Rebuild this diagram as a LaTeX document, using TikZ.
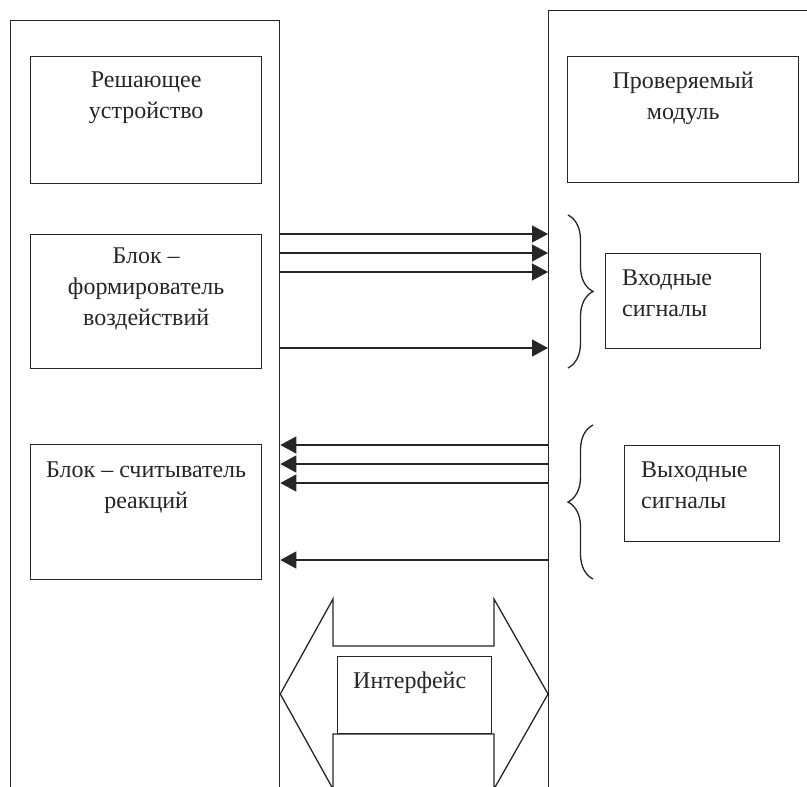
\documentclass[tikz,border=0pt]{standalone}
\usepackage{fontspec}
\setmainfont{Liberation Serif}
\usetikzlibrary{arrows.meta,decorations.pathreplacing}
\tikzset{
blok/.style={
	draw, line width=1.3pt, anchor=north west, inner sep=0pt},
nadpis/.style={
	font=\fontsize{24}{31}\selectfont, inner sep=0pt, align=center,
	anchor=north, yshift=-16pt},
nadpisL/.style={
	font=\fontsize{24}{31}\selectfont, inner sep=0pt, align=left,
	anchor=north west, xshift=17pt, yshift=-17pt},
strelka/.style={line width=1.3pt, -{Triangle[length=16pt,width=17pt]}},
skobka/.style={decorate, decoration={brace,amplitude=25pt}, line width=1.3pt}
}

\begin{document}
\begin{tikzpicture}[x=1pt, y=-1pt, color=black!85]
	\useasboundingbox (0,0) rectangle (807,787);
	\clip (0,0) rectangle (807,787);
	\node[blok, minimum width=269pt, minimum height=820pt] (stend) at (10,20) {};
	\node[blok, minimum width=300pt, minimum height=820pt] (modul) at (548,10) {};
	\node[blok, minimum width=231pt, minimum height=127pt] (reshatel) at (30,56) {};
	\node[nadpis] (reshatelT) at (reshatel.north) {Решающее\\устройство};
	\node[blok, minimum width=231pt, minimum height=126pt] (proverka) at (567,56) {};
	\node[nadpis] (proverkaT) at (proverka.north) {Проверяемый\\модуль};
	\node[blok, minimum width=231pt, minimum height=134pt] (formir) at (30,234) {};
	\node[nadpis, yshift=2pt] (formirT) at (formir.north) {Блок –\\формирователь\\воздействий};
	\node[blok, minimum width=231pt, minimum height=135pt] (schit) at (30,444) {};
	\node[nadpis, yshift=-2pt] (schitT) at (schit.north) {Блок – считыватель\\реакций};
	\node[blok, minimum width=155pt, minimum height=95pt] (vhod) at (605,253) {};
	\node[nadpisL] (vhodT) at (vhod.north west) {Входные\\сигналы};
	\node[blok, minimum width=155pt, minimum height=96pt] (vyhod) at (624,445) {};
	\node[nadpisL] (vyhodT) at (vyhod.north west) {Выходные\\сигналы};
	\foreach \y in {234,253,272,348}
		\draw[strelka] (stend.east |- 0,\y) -- (modul.west |- 0,\y);
	\foreach \y in {445,464,483,560}
		\draw[strelka] (modul.west |- 0,\y) -- (stend.east |- 0,\y);
	\draw[skobka] (568,215) -- (568,368);
	\draw[skobka] (593,579) -- (593,425);
	\draw[line width=1.3pt] (stend.east |- 0,694) -- (333,599) -- (333,646)
		-- (494,646) -- (494,599) -- (modul.west |- 0,694) -- (494,789)
		-- (494,734) -- (333,734) -- (333,789) -- cycle;
	\node[blok, minimum width=154pt, minimum height=77pt] (interf) at (337,656) {};
	\node[nadpisL, xshift=-1pt, yshift=1pt] (interfT) at (interf.north west) {Интерфейс};
\end{tikzpicture}
\end{document}
